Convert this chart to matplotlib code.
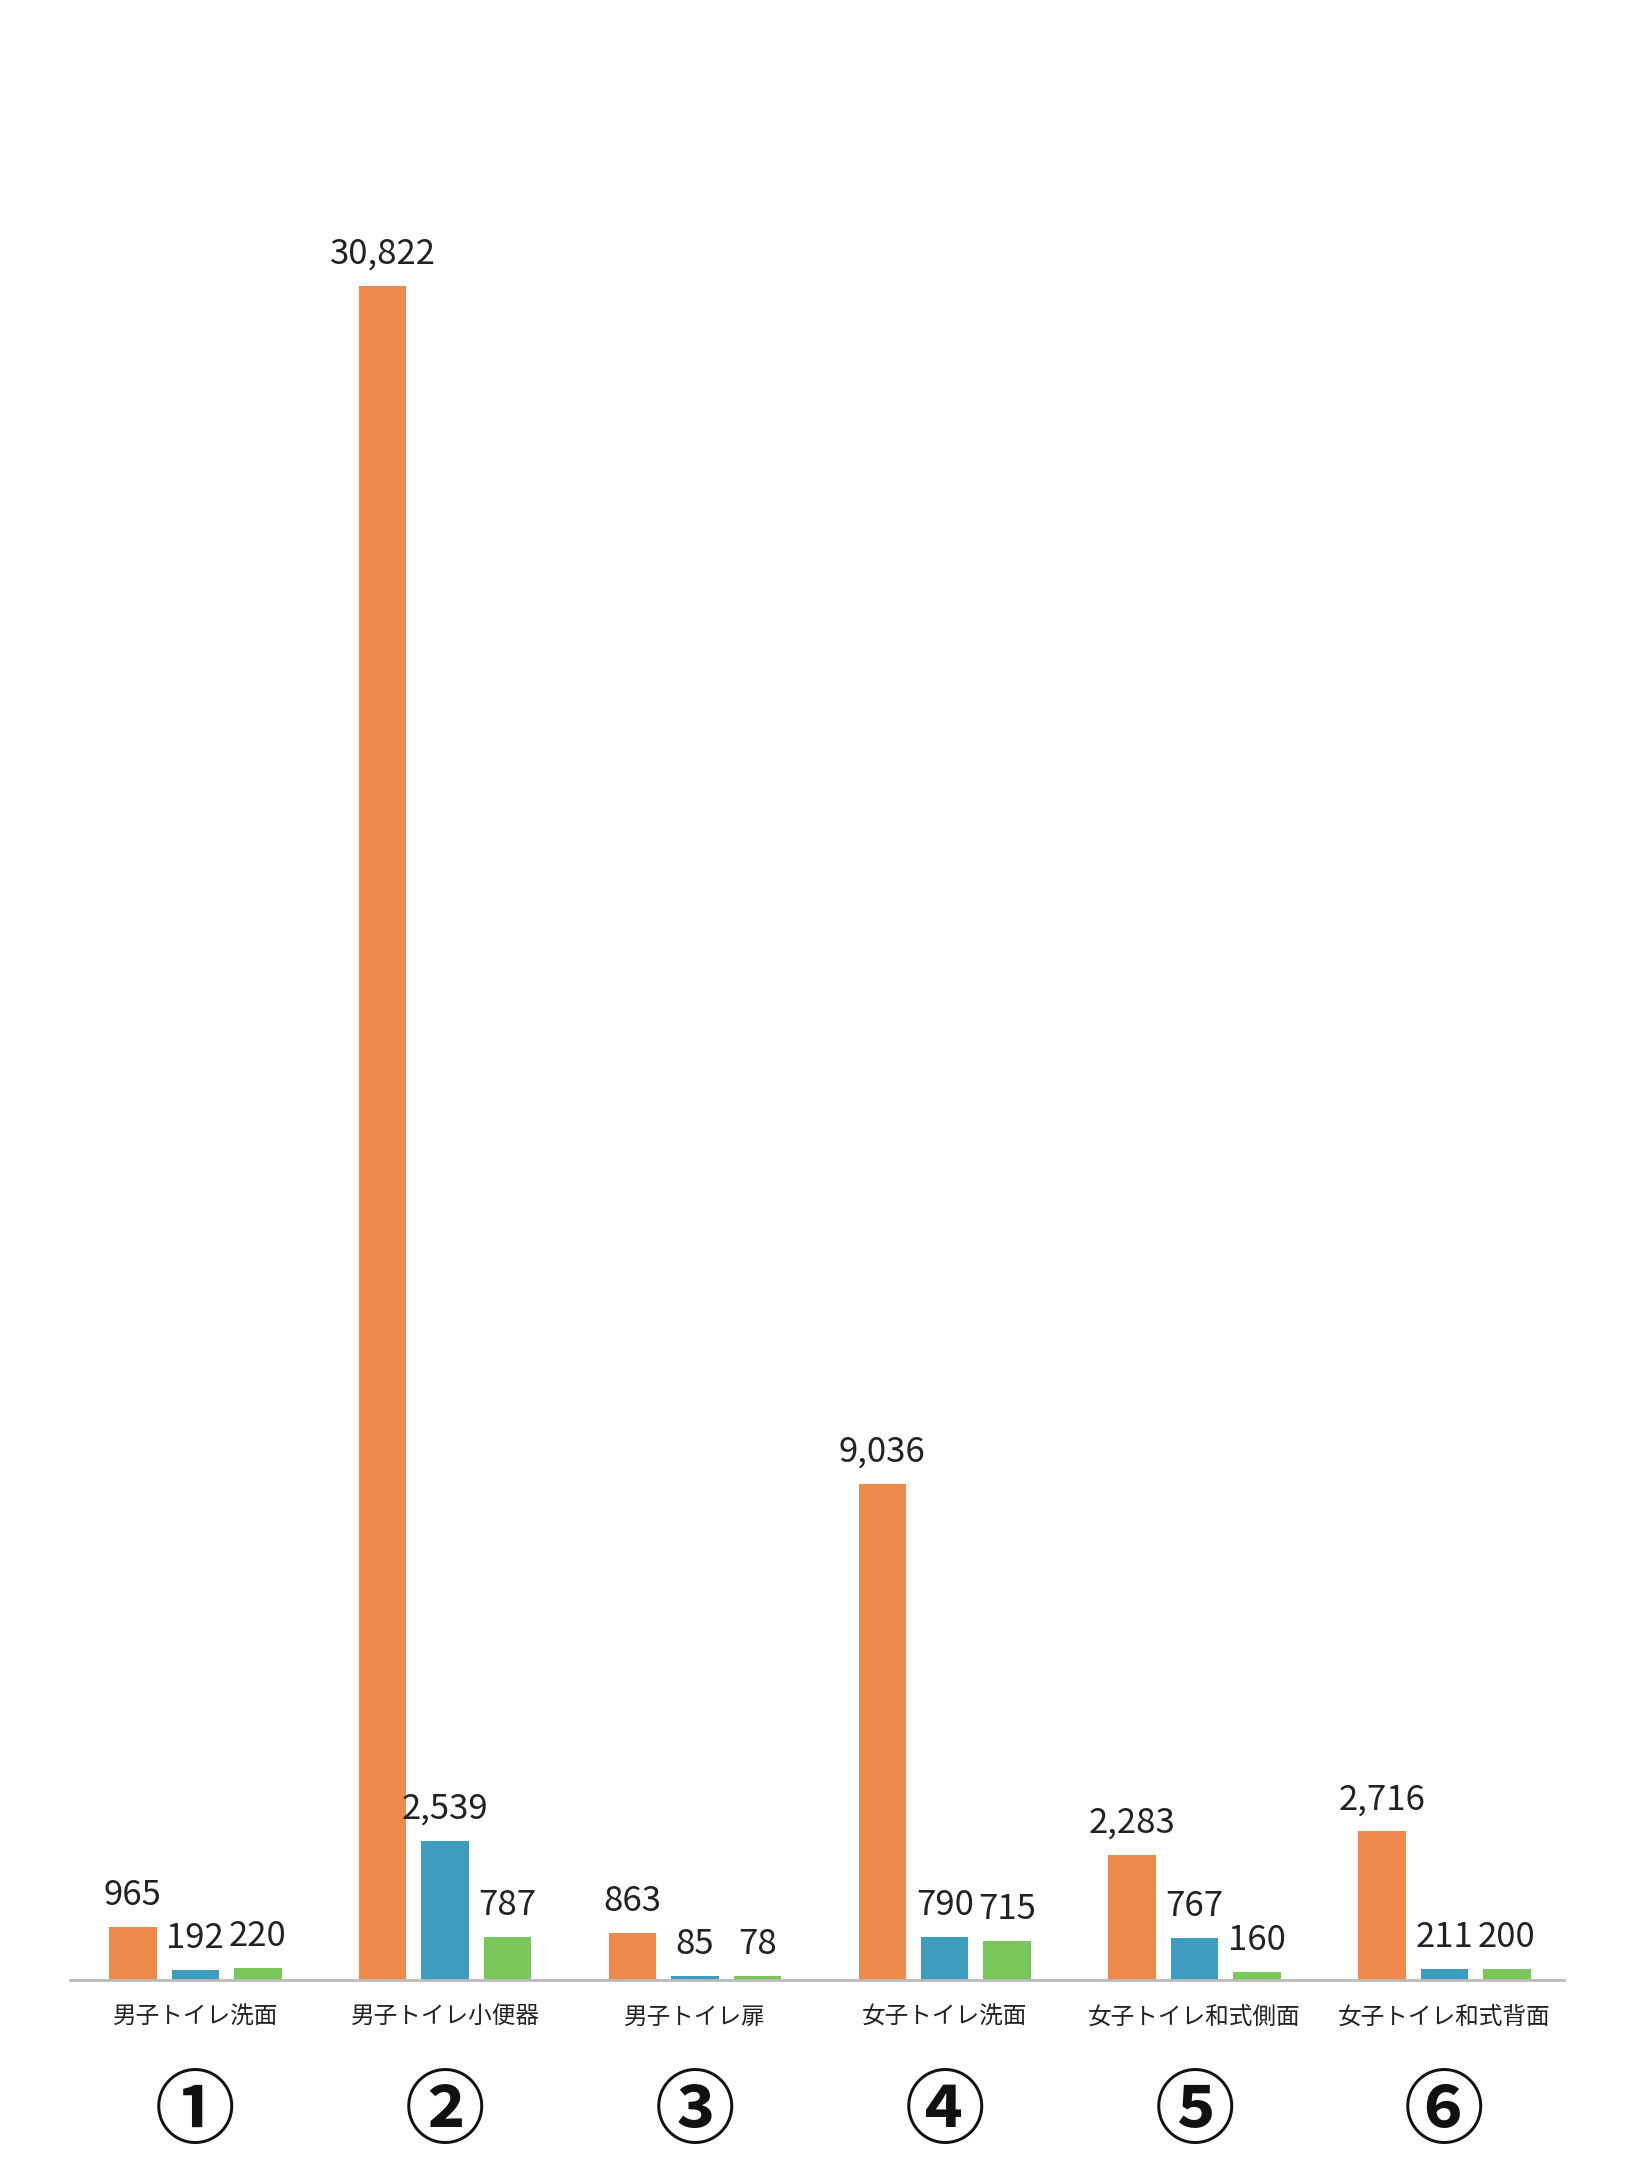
import matplotlib
matplotlib.use("Agg")
import matplotlib.pyplot as plt
import numpy as np

plt.rcParams['font.family'] = ['Noto Sans CJK JP', 'DejaVu Sans']

categories = ["男子トイレ洗面", "男子トイレ小便器", "男子トイレ扉", "女子トイレ洗面", "女子トイレ和式側面", "女子トイレ和式背面"]
circled = ["①", "②", "③", "④", "⑤", "⑥"]
series_a = [965, 30822, 863, 9036, 2283, 2716]
series_b = [192, 2539, 85, 790, 767, 211]
series_c = [220, 787, 78, 715, 160, 200]
colors = ["#EF8A4C", "#3E9DBF", "#7CC75C"]

fig = plt.figure(figsize=(16.38, 21.81), dpi=100)
ax = fig.add_axes([0.043, 0.092, 0.912, 0.816])
x = np.arange(len(categories))
w = 0.19
for i, (vals, c) in enumerate(zip([series_a, series_b, series_c], colors)):
    pos = x + (i - 1) * 0.25
    ax.bar(pos, vals, width=w, color=c)
    for p, v in zip(pos, vals):
        ax.annotate(f"{v:,}", (p, v), xytext=(0, 10), textcoords="offset points",
                    ha="center", va="bottom", fontsize=25, color="#222222")

ax.set_ylim(0, 32368)
ax.set_xlim(-0.5, 5.48)
for s in ["top", "right", "left"]:
    ax.spines[s].set_visible(False)
ax.spines["bottom"].set_color("#bbbbbb")
ax.spines["bottom"].set_linewidth(2)
ax.set_yticks([])
ax.set_xticks(x)
ax.set_xticklabels(categories, fontsize=17, color="#222222")
ax.tick_params(axis="x", length=0, pad=18)
for xi, cc in zip(x, circled):
    ax.text(xi, -0.075, cc, transform=ax.get_xaxis_transform(), ha="center", va="center",
            fontsize=58, fontweight="bold", color="#111111")

fig.savefig("out.png", dpi=100, facecolor="white")
